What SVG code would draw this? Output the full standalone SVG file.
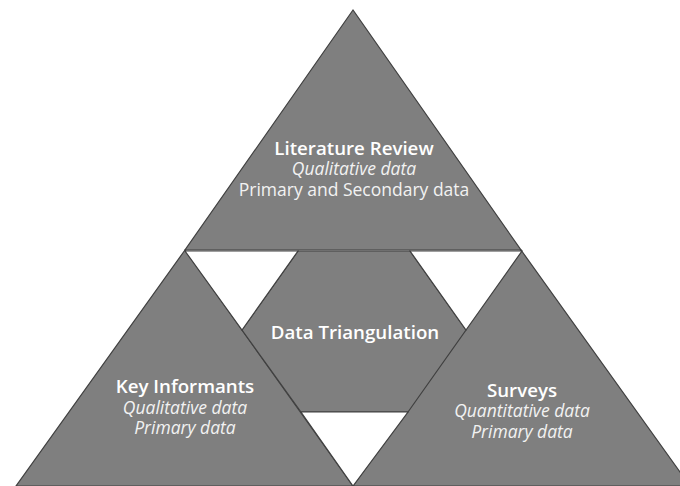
<svg xmlns="http://www.w3.org/2000/svg" width="680" height="486" viewBox="0 0 680 486">
  <style>
    .shape { fill: #7f7f7f; stroke: #404040; stroke-width: 1.2; stroke-linejoin: miter; }
    .gap { fill: #ffffff; stroke: #404040; stroke-width: 1.2; }
    .title { font-family: "Open Sans", "DejaVu Sans", sans-serif; font-size: 18.7px; font-weight: 600; fill: #ffffff; text-anchor: middle; }
    .note { font-family: "Open Sans", "DejaVu Sans", sans-serif; font-size: 17.5px; fill: #f2f2f2; text-anchor: middle; }
    .em { font-style: italic; }
  </style>
  <rect width="680" height="486" fill="#ffffff"/>

  <!-- outer corner triangles -->
  <g id="literature-review">
    <polygon class="shape" points="353,10 185,250 521,250"/>
    <text class="title" x="354" y="155">Literature Review</text>
    <text class="note em" x="354" y="175">Qualitative data</text>
    <text class="note" x="354" y="196">Primary and Secondary data</text>
  </g>

  <g id="key-informants">
    <polygon class="shape" points="185,250 16,486 353,486"/>
    <text class="title" x="185" y="393">Key Informants</text>
    <text class="note em" x="185" y="414">Qualitative data</text>
    <text class="note em" x="185" y="434">Primary data</text>
  </g>

  <g id="surveys">
    <polygon class="shape" points="521,250 353,486 690,486"/>
    <text class="title" x="522" y="397">Surveys</text>
    <text class="note em" x="522" y="417">Quantitative data</text>
    <text class="note em" x="522" y="438">Primary data</text>
  </g>

  <!-- central hexagon with white corner gaps -->
  <g id="data-triangulation">
    <polygon class="shape" points="298,251 410,251 466,330 408,412 301,412 242,330"/>
    <polygon class="gap" points="185,251 298,251 242,330"/>
    <polygon class="gap" points="410,251 522,251 466,330"/>
    <polygon class="gap" points="301,412 408,412 353,486"/>
    <text class="title" x="355" y="339">Data Triangulation</text>
  </g>

  <g id="connectors"/>
</svg>
